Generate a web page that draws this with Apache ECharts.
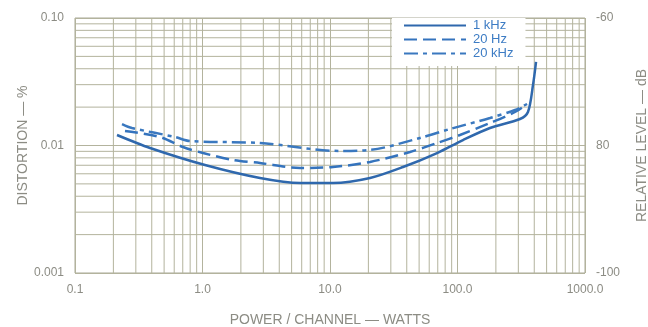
<!DOCTYPE html>
<html>
<head>
<meta charset="utf-8">
<script src="https://cdn.jsdelivr.net/npm/echarts@6/dist/echarts.min.js"></script>
<style>
html,body{margin:0;padding:0;background:#fff;}
#chart{width:648px;height:327px;}
</style>
</head>
<body>
<div id="chart"></div>
<script>
// Power per channel (W) and distortion (%)
var power1k  = [0.2135, 0.388, 1.046, 2.825, 5.82, 10.56, 20.6, 37.4, 69.1, 110.4, 179.8, 309, 357, 391, 413];
var dist1k   = [0.01209, 0.00956, 0.00703, 0.00556, 0.00508, 0.00508, 0.00556, 0.00678, 0.00873, 0.01104, 0.01372, 0.01613, 0.01831, 0.0298, 0.0452];

var power20 = [0.2467, 0.464, 0.703, 1.009, 1.735, 2.825, 5.82, 10.56, 20.6, 42.4, 69.1, 104.6, 179.8, 282.5, 351];
var dist20  = [0.01299, 0.01166, 0.00973, 0.00873, 0.0077, 0.00729, 0.00666, 0.00678, 0.00743, 0.00889, 0.01046, 0.01209, 0.01501, 0.01831, 0.02116];

var power20k = [0.2337, 0.28, 0.6085, 0.798, 2.825, 11.98, 20.6, 50.8, 87.3, 179.8, 282.5, 351];
var dist20k  = [0.01474, 0.01372, 0.01166, 0.01084, 0.01046, 0.00906, 0.00922, 0.01145, 0.01347, 0.01643, 0.019, 0.02116];

var seriesNames = ['1 kHz', '20 Hz', '20 kHz'];
var xTickLabels = {'0.1':'0.1','1':'1.0','10':'10.0','100':'100.0','1000':'1000.0'};
var yTickLabels = {'0.001':'0.001','0.01':'0.01','0.1':'0.10'};
var rightTickLabels = {'-60':'-60','-80':'80','-100':'-100'};

// grid multipliers within each decade
var minorSteps = [2, 3, 4, 5, 6, 7, 8, 9];
var xDecades = [0.1, 1, 10, 100];
var yDecades = [0.001, 0.01];

function pairs(xs, ys){ var out=[]; for (var i=0;i<xs.length;i++) out.push([xs[i], ys[i]]); return out; }

var textColor = '#8c8c84';
var gridColor = '#b3b39d';
var blue = '#3473bd';
var font = 'Liberation Sans';

var gridSeries = [];
function gridLine(data){
  return {type: 'line', data: data, z: 1, silent: true, symbol: 'none',
          lineStyle: {color: gridColor, width: 1}};
}
xDecades.forEach(function(d){ minorSteps.forEach(function(m){ var v = +(m*d).toPrecision(3); gridSeries.push(gridLine([[v, 0.001], [v, 0.1]])); }); });
yDecades.forEach(function(d){ minorSteps.forEach(function(m){ var v = +(m*d).toPrecision(3); gridSeries.push(gridLine([[0.1, v], [1000, v]])); }); });

var chart = echarts.init(document.getElementById('chart'), null, {renderer:'canvas'});
chart.setOption({
  animation: false,
  backgroundColor: '#fff',
  grid: {left: 75, right: 63, top: 18, bottom: 54, show: true, borderColor: '#a9a996', borderWidth: 1,
         outerBoundsMode: 'none'},
  legend: {
    data: seriesNames,
    orient: 'vertical',
    left: 392, top: 18,
    padding: [1, 12, 6, 11],
    itemGap: 1, itemWidth: 62, itemHeight: 10,
    backgroundColor: '#fff',
    itemStyle: {opacity: 0},
    textStyle: {color: '#3d7cc4', fontSize: 13, lineHeight: 12, fontFamily: font, padding: [0,0,0,2]}
  },
  xAxis: {
    type: 'log', logBase: 10, min: 0.1, max: 1000,
    name: 'POWER / CHANNEL — WATTS', nameLocation: 'middle', nameGap: 40, nameMoveOverlap: false,
    nameTextStyle: {color: textColor, fontSize: 14, fontFamily: font},
    axisLine: {show: false}, axisTick: {show: false},
    axisLabel: {color: textColor, fontSize: 12, fontFamily: font, margin: 11,
      formatter: function(v){ var k = String(+v.toPrecision(3)); return xTickLabels[k] !== undefined ? xTickLabels[k] : ''; }},
    splitLine: {show: true, lineStyle: {color: gridColor, width: 1}}
  },
  yAxis: [{
    type: 'log', logBase: 10, min: 0.001, max: 0.1,
    name: 'DISTORTION — %', nameLocation: 'middle', nameGap: 45, nameRotate: 90, nameMoveOverlap: false,
    nameTextStyle: {color: textColor, fontSize: 14, fontFamily: font},
    axisLine: {show: false}, axisTick: {show: false},
    axisLabel: {color: textColor, fontSize: 12, fontFamily: font, margin: 11,
      formatter: function(v){ var k = String(+v.toPrecision(3)); return yTickLabels[k] !== undefined ? yTickLabels[k] : ''; }},
    splitLine: {show: true, lineStyle: {color: gridColor, width: 1}}
  }, {
    type: 'value', min: -100, max: -60, interval: 20, position: 'right',
    name: 'RELATIVE LEVEL — dB', nameLocation: 'middle', nameGap: 50, nameRotate: 90, nameMoveOverlap: false,
    nameTextStyle: {color: textColor, fontSize: 14, fontFamily: font},
    axisLine: {show: false}, axisTick: {show: false},
    axisLabel: {color: textColor, fontSize: 12, fontFamily: font, margin: 11,
      formatter: function(v){ return rightTickLabels[String(v)] || ''; }},
    splitLine: {show: false}
  }],
  series: gridSeries.concat([
    {
      name: seriesNames[0], type: 'line', data: pairs(power1k, dist1k), z: 3,
      showSymbol: false, symbol: 'none', smooth: 0.3,
      lineStyle: {color: '#2f68ad', width: 2.5, type: 'solid'}, itemStyle: {color: '#2f68ad'}
    },
    {
      name: seriesNames[1], type: 'line', data: pairs(power20, dist20), z: 3,
      showSymbol: false, symbol: 'none', smooth: 0.3,
      lineStyle: {color: blue, width: 2.5, type: [13, 6]}, itemStyle: {color: blue}
    },
    {
      name: seriesNames[2], type: 'line', data: pairs(power20k, dist20k), z: 3,
      showSymbol: false, symbol: 'none', smooth: 0.3,
      lineStyle: {color: '#3a78bf', width: 2.5, type: [14, 5, 4, 5]}, itemStyle: {color: '#3a78bf'}
    }
  ])
});
</script>
</body>
</html>
